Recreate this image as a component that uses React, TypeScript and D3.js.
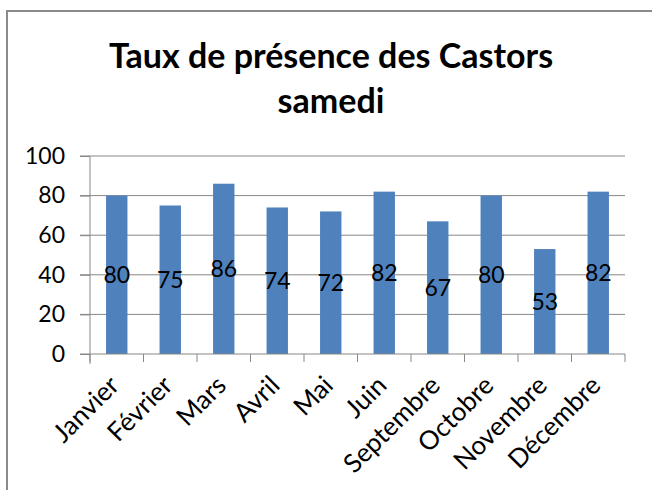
import * as d3 from "d3";
import { useEffect, useRef } from "react";

// données
const months = ["Janvier", "Février", "Mars", "Avril", "Mai", "Juin", "Septembre", "Octobre", "Novembre", "Décembre"];
const presence = [80, 75, 86, 74, 72, 82, 67, 80, 53, 82];
const yTicks = [0, 20, 40, 60, 80, 100];
const titleLines = ["Taux de présence des Castors", "samedi"];

const W = 652;
const H = 490;
const FONT = "Lato, 'Open Sans', sans-serif";

const App = () => {
  const ref = useRef<SVGSVGElement>(null);

  useEffect(() => {
    const svg = d3.select(ref.current);
    svg.selectAll("*").remove();

    const margin = { top: 156, left: 90, right: 27, bottom: 136 };
    const innerW = W - margin.left - margin.right;
    const innerH = H - margin.top - margin.bottom;

    // cadre
    svg.append("rect")
      .attr("x", 7).attr("y", 11)
      .attr("width", W + 20).attr("height", H + 20)
      .attr("fill", "white")
      .attr("stroke", "#8a8a8a")
      .attr("stroke-width", 2);

    // titre
    svg.append("text")
      .attr("x", 331)
      .attr("y", 68)
      .attr("text-anchor", "middle")
      .style("font-family", FONT)
      .style("font-weight", "bold")
      .style("font-size", "34px")
      .attr("fill", "#000")
      .selectAll("tspan")
      .data(titleLines)
      .enter()
      .append("tspan")
      .attr("x", 331)
      .attr("dy", (d, i) => (i === 0 ? 0 : 45))
      .text(d => d);

    const x = d3.scaleBand()
      .domain(months)
      .range([0, innerW])
      .paddingInner(0.6)
      .paddingOuter(0.3);

    const y = d3.scaleLinear().domain([0, 100]).range([innerH, 0]);

    const g = svg.append("g").attr("transform", `translate(${margin.left},${margin.top})`);

    // grille horizontale
    g.selectAll(".grid")
      .data(yTicks.filter(t => t > 0))
      .enter()
      .append("line")
      .attr("x1", -10).attr("x2", innerW)
      .attr("y1", d => y(d)).attr("y2", d => y(d))
      .attr("stroke", "#878787")
      .attr("stroke-width", 1);

    // barres
    g.selectAll(".bar")
      .data(presence)
      .enter()
      .append("rect")
      .attr("x", (d, i) => x(months[i]))
      .attr("y", d => y(d))
      .attr("width", x.bandwidth())
      .attr("height", d => innerH - y(d))
      .attr("fill", "#4F81BD");

    // axe Y
    const yAxis = d3.axisLeft(y).tickValues(yTicks).tickSize(10).tickPadding(15);
    const ya = g.append("g").call(yAxis);
    ya.select(".domain").attr("stroke", "#878787").attr("d", `M0,${innerH + 10}V0`);
    ya.selectAll(".tick line").attr("stroke", "#878787");
    ya.selectAll("text")
      .style("font-family", FONT)
      .style("font-size", "23px")
      .attr("fill", "#000");

    // axe X
    const step = x.step();
    const bounds = d3.range(months.length + 1).map(i => i * step);
    g.append("line")
      .attr("x1", -10).attr("x2", innerW)
      .attr("y1", innerH).attr("y2", innerH)
      .attr("stroke", "#878787");
    g.selectAll(".xtick")
      .data(bounds)
      .enter()
      .append("line")
      .attr("x1", d => d).attr("x2", d => d)
      .attr("y1", innerH).attr("y2", innerH + 8)
      .attr("stroke", "#878787");

    g.selectAll(".xlabel")
      .data(months)
      .enter()
      .append("text")
      .attr("transform", d => `translate(${x(d) + x.bandwidth() / 2 + 4},${innerH + 33}) rotate(-45)`)
      .attr("text-anchor", "end")
      .style("font-family", FONT)
      .style("font-size", "26px")
      .attr("fill", "#000")
      .text(d => d);

    // étiquettes de valeurs au milieu des barres
    g.selectAll(".val")
      .data(presence)
      .enter()
      .append("text")
      .attr("x", (d, i) => x(months[i]) + x.bandwidth() / 2)
      .attr("y", d => (y(d) + innerH) / 2)
      .attr("dy", "0.36em")
      .attr("text-anchor", "middle")
      .style("font-family", FONT)
      .style("font-size", "23px")
      .attr("fill", "#000")
      .text(d => d);
  }, []);

  return (
    <svg
      ref={ref}
      width={W}
      height={H}
      style={{ position: "absolute", left: 0, top: 0, background: "white" }}
    ></svg>
  );
};

export default App;
